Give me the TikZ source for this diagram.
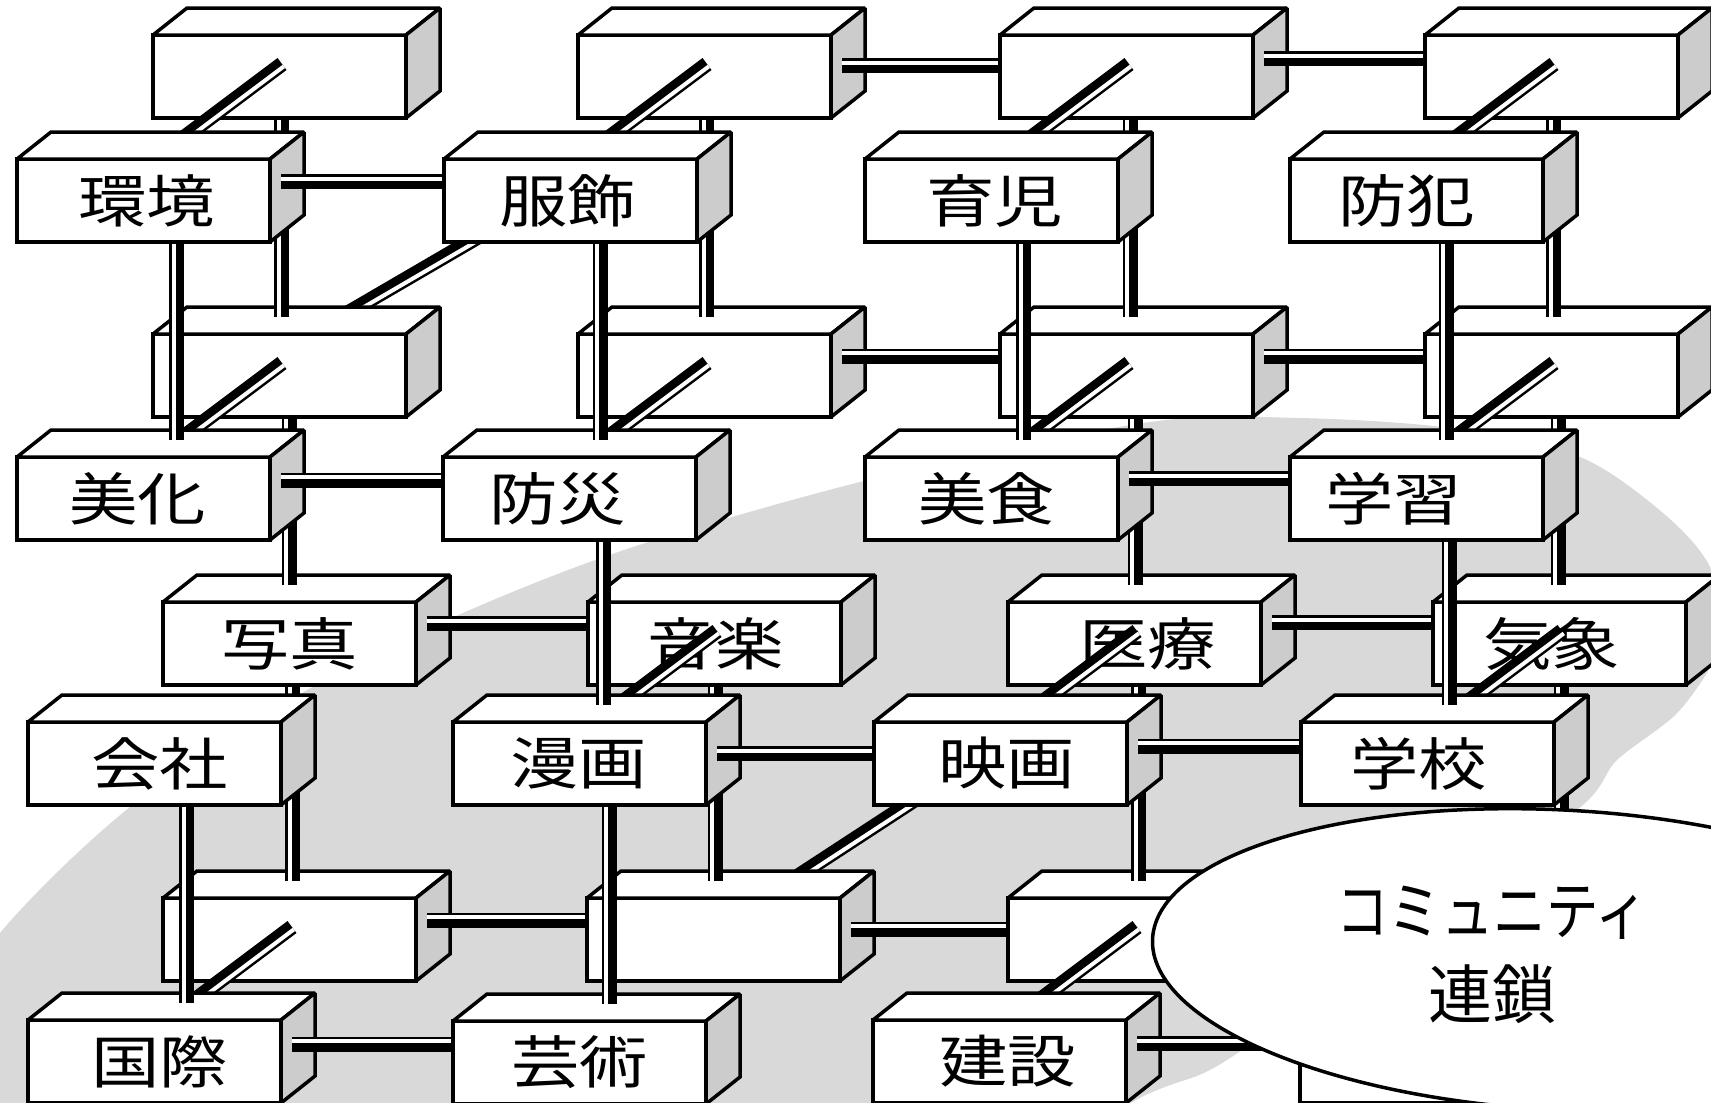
\documentclass[tikz,border=0pt]{standalone}
\usepackage{fontspec}
\newfontfamily\jpfont{Noto Sans CJK JP}
\usetikzlibrary{calc}
\pgfdeclarelayer{bg}
\pgfdeclarelayer{under}
\pgfsetlayers{bg,under,main}
\tikzset{
  edge/.style={line width=3.5pt, line join=miter, miter limit=2},
  frontface/.style={edge, draw=black, fill=white, minimum width=253pt, minimum height=83pt, inner sep=0pt, outer sep=0pt, font=\jpfont\fontsize{57}{60}\selectfont},
  topface/.style={edge, draw=black, fill=white},
  sideface/.style={edge, draw=black, fill=gray!40},
  rod/.style={draw=black, line width=15pt, line cap=butt},
  rodhi/.style={draw=white, line width=4pt, line cap=butt},
  bgfill/.style={fill=gray!30},
  bubble/.style={edge, draw=black, fill=white},
  bubbletext/.style={font=\jpfont\fontsize{64}{84}\selectfont, align=center},
}
\newcommand\cube[5]{%
  \node[frontface] (#1) at ({#2+126.5},{#3+41.5}) {\kern#5pt\kern#5pt\scalebox{1.2}[1]{#4}};
  \draw[topface] (#1.north west) -- ++(34,-27) -- ++(253,0) -- (#1.north east) -- cycle;
  \draw[sideface] (#1.north east) -- ++(34,-27) -- ++(0,83) -- (#1.south east) -- cycle;
}
% horizontal rod: thin side on top
\newcommand\hlink[3]{%
  \draw[rod] let \p1=(#1.east), \p2=(#2.west) in ({\x1+11pt},{-#3pt}) -- ({\x2-1.75pt},{-#3pt});
  \draw[rodhi] let \p1=(#1.east), \p2=(#2.west) in ({\x1+11pt},{-#3pt+3pt}) -- ({\x2-1.75pt},{-#3pt+3pt});}
% vertical rod: thin side on the left
\newcommand\vlink[3]{%
  \draw[rod] let \p1=(#1.south), \p2=(#2.north) in ({#3pt},{\y1-1.75pt}) -- ({#3pt},{\y2+17pt});
  \draw[rodhi] let \p1=(#1.south), \p2=(#2.north) in ({#3pt-3pt},{\y1-1.75pt}) -- ({#3pt-3pt},{\y2+17pt});}
% depth rod: thin side lower right
\newcommand\dlinkpts[2]{%
  \draw[rod] #1 -- #2;
  \draw[rodhi] ($#1+(1.8,2.4)$) -- ($#2+(1.8,2.4)$);}
\newcommand\dlink[2]{\dlinkpts{($(#2.north west)+(-21,141.5)$)}{($(#2.north west)+(129,29)$)}}

\begin{document}
\begin{tikzpicture}[x=1pt,y=-1pt]
\useasboundingbox (0,0) rectangle (1711,1103);
\begin{pgfonlayer}{bg}
\fill[bgfill] plot[smooth cycle] coordinates {(0,933) (130,807) (302,693) (463,613) (633,547) (880,477) (1150,422) (1300,418) (1450,428) (1580,457) (1663,513) (1710,567) (1722,640) (1680,710) (1617,760) (1577,810) (1400,935) (1227,1060) (1150,1093) (950,1180) (400,1230) (-80,1060)};
\end{pgfonlayer}
% ---------- back layer boxes
\cube{A1}{153}{35}{}{0}
\cube{A2}{578}{35}{}{0}
\cube{A3}{1000}{35}{}{0}
\cube{A4}{1425}{35}{}{0}
\cube{C1}{153}{334}{}{0}
\cube{C2}{578}{334}{}{0}
\cube{C3}{1000}{334}{}{0}
\cube{C4}{1425}{334}{}{0}
\cube{E1}{163}{602}{写真}{0}
\cube{E2}{588}{602}{音楽}{1}
\cube{E3}{1008}{602}{医療}{13}
\cube{E4}{1433}{602}{気象}{-8}
\cube{G1}{163}{898}{}{0}
\cube{G2}{587}{898}{}{0}
\cube{G3}{1008}{898}{}{0}
\cube{G4}{1433}{898}{}{0}
% back horizontal rods
\hlink{A2}{A3}{65.5}
\hlink{A3}{A4}{58.5}
\hlink{C2}{C3}{356}
\hlink{C3}{C4}{356}
\hlink{E1}{E2}{623.5}
\hlink{E3}{E4}{622.5}
\hlink{G1}{G2}{920}
\hlink{G2}{G3}{929}
\hlink{G3}{G4}{929}
% back vertical rods
\vlink{A1}{C1}{281.5}
\vlink{A2}{C2}{706.5}
\vlink{A3}{C3}{1130}
\vlink{A4}{C4}{1553.5}
\vlink{C1}{E1}{289}
\vlink{C3}{E3}{1135}
\vlink{C4}{E4}{1558}
\vlink{E1}{G1}{292.5}
\vlink{E2}{G2}{715}
\vlink{E3}{G3}{1138.5}
\vlink{E4}{G4}{1561}
% depth rods (front box -> back box)
\dlink{B1}{A1}
\dlink{B2}{A2}
\dlink{B3}{A3}
\dlink{B4}{A4}
\dlink{D1}{C1}
\dlink{D2}{C2}
\dlink{D3}{C3}
\dlink{D4}{C4}
\dlink{F2}{E2}
\dlink{F3}{E3}
\dlink{F4}{E4}
\dlink{H1}{G1}
\dlink{H3}{G3}
% ---------- front layer boxes
\cube{B1}{17}{159}{環境}{3}
\cube{B2}{444}{159}{服飾}{-3}
\cube{B3}{865}{159}{育児}{3}
\cube{B4}{1290}{159}{防犯}{-10}
\cube{D1}{17}{457}{美化}{-6}
\cube{D2}{443}{457}{防災}{-12}
\cube{D3}{865}{457}{美食}{-5}
\cube{D4}{1290}{457}{学習}{-23}
\cube{F1}{28}{722}{会社}{5}
\cube{F2}{453}{722}{漫画}{-1}
\cube{F3}{874}{722}{映画}{6}
\cube{F4}{1301}{722}{学校}{-9}
\cube{H1}{28}{1020}{国際}{5}
\cube{H2}{453}{1021}{芸術}{0}
\cube{H3}{873}{1020}{建設}{8}
\cube{H4}{1300}{1020}{}{0}
% front horizontal rods
\hlink{B1}{B2}{181.5}
\hlink{D1}{D2}{480}
\hlink{D3}{D4}{478.5}
\hlink{F2}{F3}{753.5}
\hlink{F3}{F4}{746}
\hlink{H1}{H2}{1044}
\hlink{H3}{H4}{1043.5}
% front vertical rods
\vlink{B1}{D1}{176.5}
\vlink{B2}{D2}{600}
\vlink{B3}{D3}{1023.5}
\vlink{B4}{D4}{1446}
\vlink{D2}{F2}{603.5}
\vlink{D4}{F4}{1449}
\vlink{F1}{H1}{186.5}
\vlink{F2}{H2}{609}
% rods between columns, hidden at both ends
\begin{pgfonlayer}{under}
\dlinkpts{($(C1.north west)+(169,-6)$)}{($(B2.north west)+(89,46)$)}
\dlinkpts{($(G2.north west)+(179,-1)$)}{($(F3.north west)+(91,45)$)}
\end{pgfonlayer}
% ---------- community bubble
\draw[bubble, rotate around={-3:(1560,960)}] (1560,960) ellipse [x radius=408pt, y radius=150pt];
\node[bubbletext] (comm) at (1492,955) {\scalebox{0.82}[1]{コミュニティ}\\連鎖};
\end{tikzpicture}
\end{document}
